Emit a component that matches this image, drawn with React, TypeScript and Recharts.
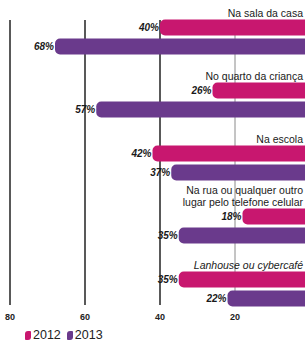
import { Bar, BarChart, CartesianGrid, LabelList, XAxis, YAxis } from "recharts"

const categories = [
  "Na sala da casa",
  "No quarto da criança",
  "Na escola",
  "Na rua ou qualquer outro lugar pelo telefone celular",
  "Lanhouse ou cybercafé",
]
const values2012 = [40, 26, 42, 18, 35]
const values2013 = [68, 57, 37, 35, 22]
const xTicks = [0, 20, 40, 60, 80]
const italicCategories = ["Lanhouse ou cybercafé"]

const PINK = "#c8176f"
const PURPLE = "#6a3a8c"
const FONT = "'Liberation Sans', Arial, sans-serif"

const data = categories.map((name, i) => ({
  name,
  y2012: values2012[i],
  y2013: values2013[i],
}))

function wrap(text: string, max: number) {
  const words = text.split(" ")
  const lines: string[] = []
  let cur = ""
  for (const w of words) {
    if (cur && (cur + " " + w).length > max) {
      lines.push(cur)
      cur = w
    } else {
      cur = cur ? cur + " " + w : w
    }
  }
  if (cur) lines.push(cur)
  return lines
}

function CategoryLabel(props: any) {
  const { x, y, width, value } = props
  const right = Math.max(x, x + width)
  const lines = wrap(String(value), 27)
  const italic = italicCategories.includes(String(value))
  return (
    <text
      x={right - 7}
      y={y - 3}
      textAnchor="end"
      fontFamily={FONT}
      fontSize={10.5}
      fontStyle={italic ? "italic" : "normal"}
      fill="#1a1a1a"
    >
      {lines.map((l, i) => (
        <tspan key={i} x={right - 7} dy={i === 0 ? -(lines.length - 1) * 12 : 12}>
          {l}
        </tspan>
      ))}
    </text>
  )
}

function ValueLabel(props: any) {
  const { x, y, width, height, value } = props
  const left = Math.min(x, x + width)
  return (
    <text
      x={left - 1}
      y={y + height / 2 + 3.5}
      textAnchor="end"
      fontFamily={FONT}
      fontSize={10}
      fontWeight="bold"
      fontStyle="italic"
      fill="#1a1a1a"
    >
      {value}%
    </text>
  )
}

export default function App() {
  return (
    <div style={{ position: "absolute", left: 0, top: 0, width: 305, height: 348, overflow: "hidden", background: "#fff" }}>
      <BarChart
        width={310}
        height={348}
        data={data}
        layout="vertical"
        margin={{ top: 20, right: 0, left: 10, bottom: 23 }}
        barSize={16}
        barGap={3}
      >
        <CartesianGrid horizontal={false} verticalValues={[40, 60, 80]} stroke="#222" strokeWidth={1.5} />
        <CartesianGrid horizontal={false} verticalValues={[20]} stroke="#8a8a8a" strokeWidth={1} />
        <XAxis
          type="number"
          domain={[0, 80]}
          ticks={xTicks}
          reversed
          axisLine={false}
          tickLine={false}
          height={20}
          tickSize={6}
          tickMargin={3}
          tick={{ fontFamily: FONT, fontSize: 9, fontWeight: "bold", fill: "#222" }}
        />
        <YAxis type="category" dataKey="name" hide padding={{ top: -14.5, bottom: -15.5 }} />
        <Bar dataKey="y2012" name="2012" fill={PINK} radius={5} isAnimationActive={false}>
          <LabelList dataKey="y2012" content={ValueLabel} />
          <LabelList dataKey="name" content={CategoryLabel} />
        </Bar>
        <Bar dataKey="y2013" name="2013" fill={PURPLE} radius={5} isAnimationActive={false}>
          <LabelList dataKey="y2013" content={ValueLabel} />
        </Bar>
      </BarChart>
      <div
        style={{
          position: "absolute",
          left: 25,
          top: 328,
          display: "flex",
          alignItems: "center",
          fontFamily: FONT,
          fontSize: 12.5,
          color: "#222",
        }}
      >
        {[
          { label: "2012", color: PINK },
          { label: "2013", color: PURPLE },
        ].map((item) => (
          <span key={item.label} style={{ display: "flex", alignItems: "center", marginRight: 6 }}>
            <span
              style={{
                display: "inline-block",
                width: 6,
                height: 9,
                background: item.color,
                borderRadius: "3px 1px 3px 1px",
                marginRight: 2,
              }}
            />
            {item.label}
          </span>
        ))}
      </div>
    </div>
  )
}
